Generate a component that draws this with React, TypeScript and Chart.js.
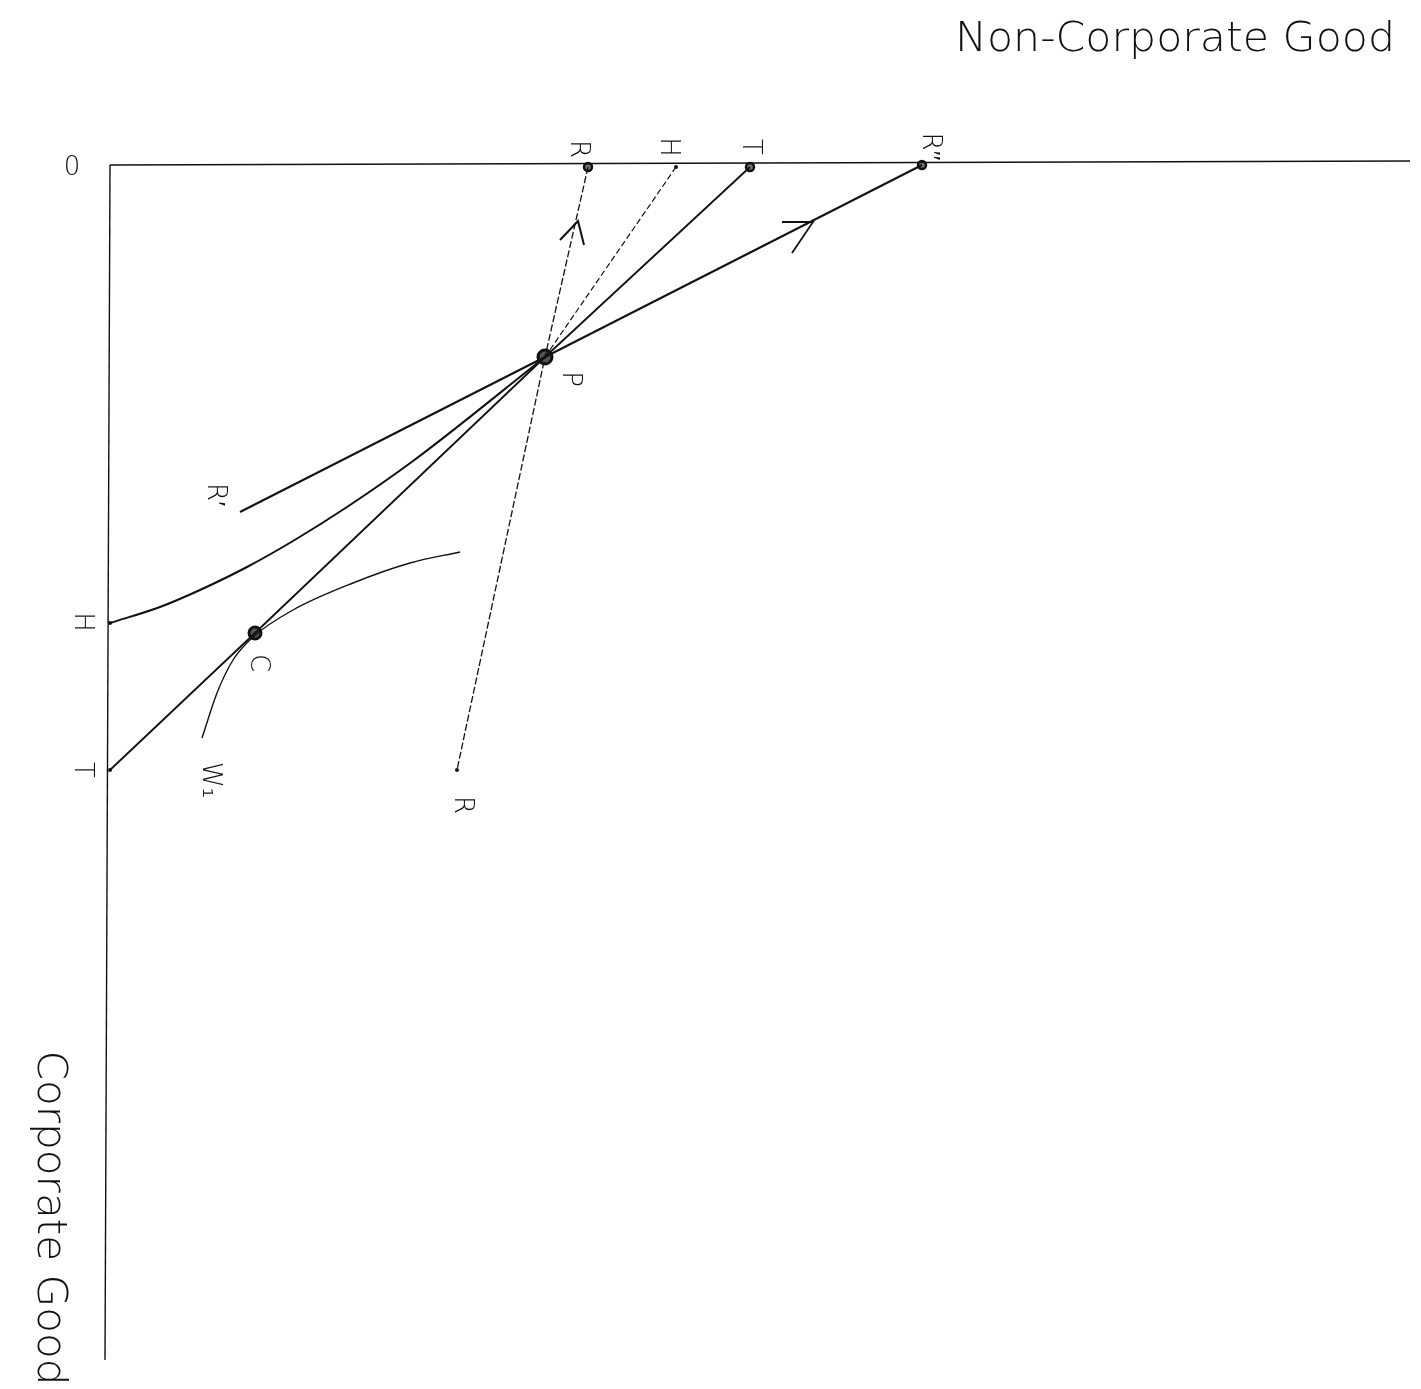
import React, { useEffect, useRef } from "react";
import { Chart, registerables } from "chart.js";
Chart.register(...registerables);

// Diagram data (x: non-corporate good, y: corporate good, measured downward from origin 0)
const X_AXIS = [{ x: 0, y: 0 }, { x: 130, y: -0.4 }];
const Y_AXIS = [{ x: 0, y: 0 }, { x: -0.5, y: 119.5 }];
const POINT_P = { x: 43.5, y: 19.2 };
const POINT_C = { x: 14.5, y: 46.8 };
const R_LINE = [{ x: 47.8, y: 0.2 }, POINT_P, { x: 34.7, y: 60.5 }];
const H_TOP = [{ x: 56.6, y: 0.2 }, POINT_P];
const H_CURVE = [
  { x: 0, y: 45.8 }, { x: 5, y: 44.2 }, { x: 9, y: 42.5 }, { x: 13.7, y: 40.2 },
  { x: 18.3, y: 37.6 }, { x: 23.7, y: 34.2 }, { x: 30.3, y: 29.6 }, { x: 43.5, y: 19.2 },
];
const T_LINE = [{ x: 64, y: 0.2 }, POINT_P, POINT_C, { x: 0, y: 60.5 }];
const R2_LINE = [{ x: 81.2, y: 0 }, POINT_P, { x: 13, y: 34.7 }];
const W1_CURVE = [
  { x: 9.2, y: 57.3 }, { x: 10.7, y: 52.8 }, { x: 12.3, y: 49.5 }, { x: 14.3, y: 47.2 },
  { x: 18.3, y: 44.5 }, { x: 24.3, y: 41.8 }, { x: 30, y: 39.8 }, { x: 35, y: 38.7 },
];
const ARROW_R = [{ x: 45, y: 7.5 }, { x: 46.8, y: 5.6 }, { x: 47.4, y: 8 }];
const ARROW_R2 = [{ x: 67.2, y: 5.7 }, { x: 70.3, y: 5.7 }, { x: 68.2, y: 8.8 }];
const SMALL_MARKERS = [{ x: 47.8, y: 0.2 }, { x: 64, y: 0.2 }, { x: 81.2, y: 0 }];
const END_DOTS = [{ x: 56.6, y: 0.2 }, { x: 0, y: 45.8 }, { x: 0, y: 60.5 }, { x: 34.7, y: 60.5 }];
const BIG_MARKERS = [POINT_P, POINT_C];

const LABEL_TEXT = ["R", "H", "T", "R″", "H", "T", "R′", "W₁", "C", "P", "R"];
const LABEL_X = [46.8, 55.8, 64, 82, -2.8, -2.8, 10.5, 10, 14.8, 46, 35.2];
const LABEL_Y = [-1.6, -1.8, -1.8, -1.8, 45.7, 60.5, 33, 61.5, 49.8, 21.4, 64];
const ORIGIN_LABEL = { text: "0", x: -3.8, y: 0.3 };
const X_TITLE = { text: "Non-Corporate Good", x: 106.5, y: -12.4 };
const Y_TITLE = { text: "Corporate Good", x: -6.2, y: 105.3 };

const lineDs = (data: any[], width: number, dash: number[] = [], smooth = false) => ({
  data,
  showLine: true,
  borderColor: "#111",
  borderWidth: width,
  borderDash: dash,
  pointRadius: 0,
  fill: false,
  tension: smooth ? 0.4 : 0,
  cubicInterpolationMode: smooth ? "monotone" : "default",
});

const labelPlugin = {
  id: "labels",
  afterDatasetsDraw(chart: any) {
    const { ctx, scales } = chart;
    const xs = scales.x, ys = scales.y;
    ctx.save();
    ctx.fillStyle = "#111";
    ctx.textAlign = "center";
    ctx.textBaseline = "middle";
    ctx.font = '300 26px "DejaVu Sans"';
    LABEL_TEXT.forEach((t, i) => {
      ctx.save();
      ctx.translate(xs.getPixelForValue(LABEL_X[i]), ys.getPixelForValue(LABEL_Y[i]));
      ctx.rotate(Math.PI / 2);
      ctx.fillText(t, 0, 0);
      ctx.restore();
    });
    ctx.fillText(ORIGIN_LABEL.text, xs.getPixelForValue(ORIGIN_LABEL.x), ys.getPixelForValue(ORIGIN_LABEL.y));
    ctx.font = '300 40px "DejaVu Sans"';
    const fit = (text: string, target: number) => target / ctx.measureText(text).width;
    ctx.save();
    ctx.translate(xs.getPixelForValue(X_TITLE.x), ys.getPixelForValue(X_TITLE.y));
    ctx.scale(fit(X_TITLE.text, 440), 1);
    ctx.fillText(X_TITLE.text, 0, 0);
    ctx.restore();
    ctx.save();
    ctx.translate(xs.getPixelForValue(Y_TITLE.x), ys.getPixelForValue(Y_TITLE.y));
    ctx.rotate(Math.PI / 2);
    ctx.scale(fit(Y_TITLE.text, 335), 1);
    ctx.fillText(Y_TITLE.text, 0, 0);
    ctx.restore();
    ctx.restore();
  },
};

export default function App() {
  const ref = useRef<HTMLCanvasElement>(null);
  useEffect(() => {
    if (!ref.current) return;
    const chart = new Chart(ref.current, {
      type: "scatter",
      data: {
        datasets: [
          lineDs(X_AXIS, 1.6),
          lineDs(Y_AXIS, 1.4),
          lineDs(R_LINE, 1.3, [7, 2.5]),
          lineDs(H_TOP, 1.2, [6, 3]),
          lineDs(H_CURVE, 2, [], true),
          lineDs(T_LINE, 1.8),
          lineDs(R2_LINE, 2),
          lineDs(W1_CURVE, 1.4, [], true),
          lineDs(ARROW_R, 2),
          lineDs(ARROW_R2, 1.8),
          {
            data: SMALL_MARKERS,
            showLine: false,
            pointRadius: 4,
            pointBorderWidth: 2.5,
            pointBorderColor: "#111",
            pointBackgroundColor: "#777",
          },
          {
            data: BIG_MARKERS,
            showLine: false,
            pointRadius: [7, 6] as any,
            pointBorderWidth: 3,
            pointBorderColor: "#111",
            pointBackgroundColor: "#555",
          },
          {
            data: END_DOTS,
            showLine: false,
            pointRadius: 2,
            pointBorderWidth: 0,
            pointBackgroundColor: "#111",
          },
        ] as any,
      },
      options: {
        animation: false,
        responsive: false,
        layout: { padding: 0, autoPadding: false },
        plugins: { legend: { display: false }, tooltip: { enabled: false } },
        scales: {
          x: { type: "linear", min: -11, max: 131.1, display: false },
          y: { type: "linear", min: -16.5, max: 122.4, reverse: true, display: false },
        },
      } as any,
      plugins: [labelPlugin],
    });
    return () => chart.destroy();
  }, []);
  return (
    <div style={{ position: "fixed", left: 0, top: 0, width: 1421, height: 1389, background: "#fff" }}>
      <canvas ref={ref} width={1421} height={1389} style={{ width: 1421, height: 1389, display: "block" }} />
    </div>
  );
}
